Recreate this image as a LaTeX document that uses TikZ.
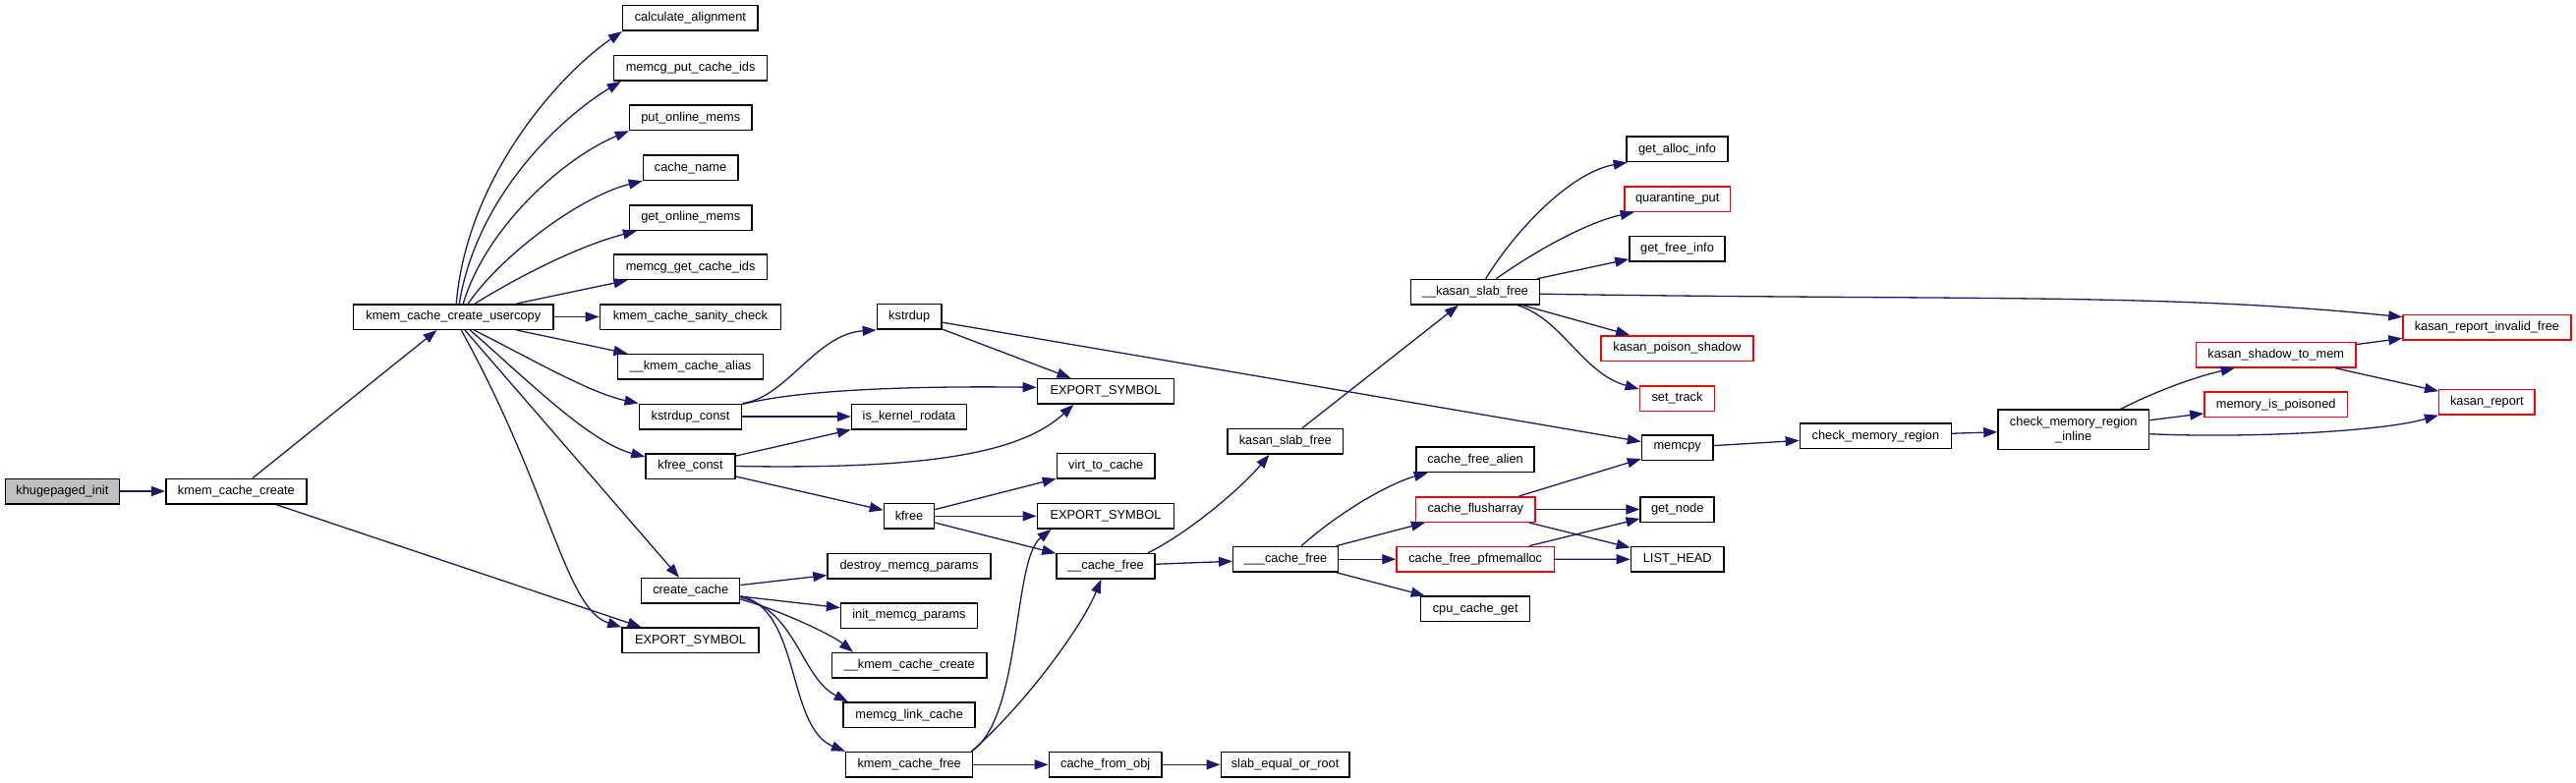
\documentclass[tikz,border=0pt]{standalone}
\usepackage{fontspec}
\setmainfont{Liberation Sans}
\usetikzlibrary{arrows.meta,calc}
\definecolor{edgeblue}{HTML}{191970}
\definecolor{nodegray}{HTML}{BFBFBF}
\definecolor{nodered}{HTML}{FF0000}
\begin{document}
\begin{tikzpicture}[x=1pt,y=-1pt,
  fn/.style={draw=black, line width=1.5pt, rectangle, inner sep=0pt, minimum height=25.5pt, fill=white, font=\fontsize{12.8}{15}\selectfont},
  rfn/.style={fn, draw=nodered},
  gfn/.style={fn, fill=nodegray},
  edge/.style={draw=edgeblue, line width=1.3pt, -{Triangle[length=14pt,width=10pt,fill=edgeblue]}}]
\useasboundingbox (0,0) rectangle (2621,797);
% column 0-1
\node[gfn, minimum width=116pt] (khug) at (63.4,500) {khugepaged\_init};
\node[fn, minimum width=143.3pt] (kcc) at (240.4,500) {kmem\_cache\_create};
\node[fn, minimum width=203.2pt] (uc) at (461.3,322.5) {kmem\_cache\_create\_usercopy};
% column 2
\node[fn, minimum width=137.4pt] (ca) at (702.4,18.5) {calculate\_alignment};
\node[fn, minimum width=156.2pt] (mpc) at (702.6,69.4) {memcg\_put\_cache\_ids};
\node[fn, minimum width=124.4pt] (pom) at (702.8,119.8) {put\_online\_mems};
\node[fn, minimum width=96.4pt] (cn) at (702.6,170.7) {cache\_name};
\node[fn, minimum width=124.4pt] (gom) at (702.8,221.5) {get\_online\_mems};
\node[fn, minimum width=156.2pt] (mgc) at (702.6,271.8) {memcg\_get\_cache\_ids};
\node[fn, minimum width=184pt] (sc) at (702.4,322.5) {kmem\_cache\_sanity\_check};
\node[fn, minimum width=148.4pt] (alias) at (702.5,373.3) {\_\_kmem\_cache\_alias};
\node[fn, minimum width=104.4pt] (ksc) at (702.5,424) {kstrdup\_const};
\node[fn, minimum width=91pt] (kfc) at (702.5,474.5) {kfree\_const};
\node[fn, minimum width=100pt] (cc) at (702.7,601.3) {create\_cache};
\node[fn, minimum width=139pt] (es0) at (702.5,651.8) {EXPORT\_SYMBOL};
% column 3
\node[fn, minimum width=65.6pt] (ksd) at (925.2,322.4) {kstrdup};
\node[fn, minimum width=117pt] (ikr) at (925,424) {is\_kernel\_rodata};
\node[fn, minimum width=51pt] (kfree) at (925,525.3) {kfree};
\node[fn, minimum width=166pt] (dmp) at (925,576) {destroy\_memcg\_params};
\node[fn, minimum width=138.8pt] (imp) at (925,626.5) {init\_memcg\_params};
\node[fn, minimum width=157.6pt] (kmcc) at (925.2,677.2) {\_\_kmem\_cache\_create};
\node[fn, minimum width=134pt] (mlc) at (925.2,727.7) {memcg\_link\_cache};
\node[fn, minimum width=129pt] (kcf) at (925.2,778.3) {kmem\_cache\_free};
% column 4
\node[fn, minimum width=139.3pt] (es1) at (1125,398.3) {EXPORT\_SYMBOL};
\node[fn, minimum width=99.6pt] (vtc) at (1125.2,474.3) {virt\_to\_cache};
\node[fn, minimum width=139.3pt] (es2) at (1125,525.3) {EXPORT\_SYMBOL};
\node[fn, minimum width=100pt] (cfree) at (1125,576.2) {\_\_cache\_free};
\node[fn, minimum width=114.8pt] (cfo) at (1124.7,778.3) {cache\_from\_obj};
% column 5
\node[fn, minimum width=117.4pt] (ksf) at (1307.8,449.3) {kasan\_slab\_free};
\node[fn, minimum width=106.6pt] (ccf) at (1308,569.2) {\_\_\_cache\_free};
\node[fn, minimum width=130.7pt] (ser) at (1307.6,778.3) {slab\_equal\_or\_root};
% column 6
\node[fn, minimum width=130.8pt] (kasf) at (1501,297.2) {\_\_kasan\_slab\_free};
\node[fn, minimum width=120.2pt] (cfa) at (1501,467.8) {cache\_free\_alien};
\node[rfn, minimum width=121.4pt] (cfl) at (1501.3,518.5) {cache\_flusharray};
\node[rfn, minimum width=160.3pt] (cfp) at (1501.2,569.2) {cache\_free\_pfmemalloc};
\node[fn, minimum width=111pt] (ccg) at (1501.2,619.8) {cpu\_cache\_get};
% column 7
\node[fn, minimum width=103pt] (gai) at (1706.5,151.8) {get\_alloc\_info};
\node[rfn, minimum width=107.2pt] (qp) at (1706.7,202.5) {quarantine\_put};
\node[fn, minimum width=97pt] (gfi) at (1706.5,253.3) {get\_free\_info};
\node[rfn, minimum width=155pt] (kps) at (1706.5,354.5) {kasan\_poison\_shadow};
\node[rfn, minimum width=76.3pt] (st) at (1706.5,405.5) {set\_track};
\node[fn, minimum width=72.4pt] (memcpy) at (1706.7,455.8) {memcpy};
\node[fn, minimum width=75pt] (gn) at (1706.7,518.5) {get\_node};
\node[fn, minimum width=94.6pt] (lh) at (1706.7,569.3) {LIST\_HEAD};
% right part
\node[fn, minimum width=154pt] (cmr) at (1908.4,443.8) {check\_memory\_region};
\node[fn, minimum width=153.4pt, minimum height=40.3pt, align=center] (cmri) at (2109.7,437.2) {check\_memory\_region\\\_inline};
\node[rfn, minimum width=162.3pt] (kstm) at (2315.7,361.2) {kasan\_shadow\_to\_mem};
\node[rfn, minimum width=145.5pt] (mip) at (2315.7,411.8) {memory\_is\_poisoned};
\node[rfn, minimum width=170.8pt] (krif) at (2530.4,333.2) {kasan\_report\_invalid\_free};
\node[rfn, minimum width=97.4pt] (kr) at (2530.4,409.2) {kasan\_report};
% edges
\draw[edge] (khug) -- (kcc);
\draw[edge] (kcc) -- (uc);
\draw[edge] (kcc) -- ([xshift=-50pt]es0.north);
\draw[edge] ([xshift=3pt]uc.north) .. controls (475,180) and (570,75) .. (ca.south west);
\draw[edge] ([xshift=6pt]uc.north) .. controls (485,200) and (570,120) .. ([xshift=8pt]mpc.south west);
\draw[edge] ([xshift=10pt]uc.north) .. controls (495,230) and (575,160) .. (pom.south west);
\draw[edge] ([xshift=15pt]uc.north) .. controls (510,260) and (590,200) .. (cn.south west);
\draw[edge] ([xshift=22pt]uc.north) .. controls (530,280) and (590,250) .. ([xshift=8pt]gom.south west);
\draw[edge] (uc) -- (mgc);
\draw[edge] (uc) -- (sc);
\draw[edge] (uc) -- (alias);
\draw[edge] ([xshift=21pt]uc.south) .. controls (540,365) and (600,400) .. (ksc.north west);
\draw[edge] ([xshift=17pt]uc.south) .. controls (540,390) and (600,450) .. ([yshift=-4pt]kfc.north west);
\draw[edge] (uc) -- (cc);
\draw[edge] ([xshift=8pt]uc.south) .. controls (560,500) and (575,620) .. (es0.north west);
\draw[edge] (ksc.north east) .. controls (800,405) and (830,340) .. (ksd.south west);
\draw[edge] ([yshift=-1pt]ksc.north east) .. controls (820,395) and (950,393) .. ([yshift=4pt]es1.west);
\draw[edge] (ksc) -- (ikr);
\draw[edge] (kfc) -- (ikr);
\draw[edge] (kfc.east) .. controls (950,478) and (1040,460) .. ([xshift=-32.6pt]es1.south);
\draw[edge] (kfc) -- (kfree);
\draw[edge] (ksd) -- (es1);
\draw[edge] (ksd) -- (memcpy);
\draw[edge] (kfree) -- (vtc);
\draw[edge] (kfree) -- (es2);
\draw[edge] (kfree) -- (cfree);
\draw[edge] (cc) -- (dmp);
\draw[edge] (cc) -- (imp);
\draw[edge] ([yshift=-8.7pt]cc.east) .. controls (790,620) and (845,645) .. ([xshift=-57.3pt]kmcc.north);
\draw[edge] ([yshift=-7pt]cc.east) .. controls (810,620) and (815,690) .. ([xshift=-62.4pt]mlc.north);
\draw[edge] ([yshift=-5.4pt]cc.east) .. controls (815,620) and (800,740) .. (kcf.north west);
\draw[edge] ([xshift=-2pt]kcf.north east) .. controls (1040,730) and (1030,570) .. ([xshift=15pt]es2.south west);
\draw[edge] ([xshift=-2pt]kcf.north east) .. controls (1040,720) and (1100,640) .. ([xshift=-4.6pt]cfree.south);
\draw[edge] (kcf) -- (cfo);
\draw[edge] (cfo) -- (ser);
\draw[edge] ([xshift=43pt]cfree.north) .. controls (1205,545) and (1260,500) .. ([xshift=-16.3pt]ksf.south);
\draw[edge] (cfree) -- (ccf);
\draw[edge] ([xshift=16pt]ccf.north) .. controls (1370,515) and (1420,490) .. ([xshift=12.6pt]cfa.south west);
\draw[edge] (ccf) -- (cfl);
\draw[edge] (ccf) -- (cfp);
\draw[edge] (ccf) -- (ccg);
\draw[edge] (cfl) -- (memcpy);
\draw[edge] (cfl) -- (gn);
\draw[edge] (cfl) -- (lh);
\draw[edge] (cfp) -- (gn);
\draw[edge] (cfp) -- (lh);
\draw[edge] (ksf) -- (kasf);
\draw[edge] ([xshift=10.6pt]kasf.north) .. controls (1545,230) and (1600,175) .. ([xshift=1.4pt]gai.south west);
\draw[edge] ([xshift=21.3pt]kasf.north) .. controls (1570,250) and (1620,225) .. ([xshift=10.3pt]qp.south west);
\draw[edge] (kasf) -- (gfi);
\draw[edge] ([yshift=-2pt]kasf.east) .. controls (2000,306) and (2200,298) .. ([yshift=-3pt]krif.north west);
\draw[edge] (kasf) -- (kps);
\draw[edge] ([xshift=43pt]kasf.south) .. controls (1590,325) and (1610,380) .. ([yshift=-4pt]st.north west);
\draw[edge] (memcpy) -- (cmr);
\draw[edge] (cmr) -- (cmri);
\draw[edge] ([xshift=48pt]cmri.north) .. controls (2200,395) and (2240,382) .. ([xshift=-42pt]kstm.south);
\draw[edge] (cmri) -- (mip);
\draw[edge] ([yshift=-4.5pt]cmri.east) .. controls (2280,446) and (2420,440) .. (kr.south west);
\draw[edge] (kstm) -- (krif);
\draw[edge] (kstm) -- (kr);
\end{tikzpicture}
\end{document}
